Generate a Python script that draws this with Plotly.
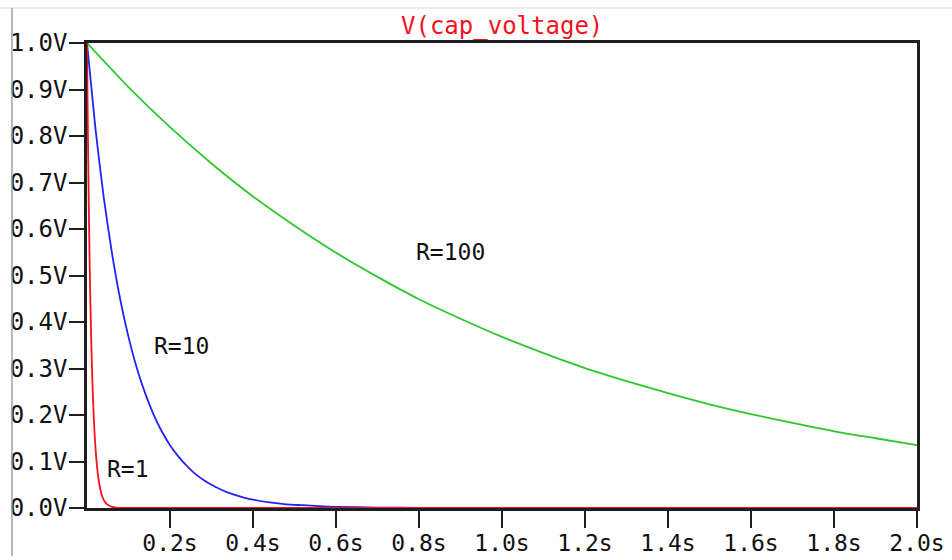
import plotly.graph_objects as go

# Time samples (s) and capacitor voltage (V)
t_r1 = [0, 0.002, 0.004, 0.006, 0.008, 0.010, 0.012, 0.014, 0.016, 0.018, 0.020,
        0.022, 0.024, 0.026, 0.028, 0.030, 0.034, 0.038, 0.042, 0.046, 0.050,
        0.060, 0.070, 0.080, 0.100, 2.0]
v_r1 = [1.000, 0.819, 0.670, 0.549, 0.449, 0.368, 0.301, 0.247, 0.202, 0.165, 0.135,
        0.111, 0.091, 0.074, 0.061, 0.050, 0.033, 0.022, 0.015, 0.010, 0.007,
        0.0025, 0.0009, 0.0003, 0.0, 0.0]

t_r10 = [0, 0.02, 0.04, 0.06, 0.08, 0.10, 0.12, 0.14, 0.16, 0.18, 0.20, 0.22, 0.24,
         0.26, 0.28, 0.30, 0.32, 0.34, 0.36, 0.38, 0.40, 0.44, 0.48, 0.52, 0.56,
         0.60, 0.70, 0.80, 1.0, 2.0]
v_r10 = [1.000, 0.819, 0.670, 0.549, 0.449, 0.368, 0.301, 0.247, 0.202, 0.165, 0.135,
         0.111, 0.091, 0.074, 0.061, 0.050, 0.041, 0.033, 0.027, 0.022, 0.018,
         0.012, 0.008, 0.006, 0.004, 0.0025, 0.001, 0.0003, 0.0, 0.0]

t_r100 = [0, 0.1, 0.2, 0.3, 0.4, 0.5, 0.6, 0.7, 0.8, 0.9, 1.0, 1.1, 1.2, 1.3, 1.4,
          1.5, 1.6, 1.7, 1.8, 1.9, 2.0]
v_r100 = [1.000, 0.905, 0.819, 0.741, 0.670, 0.607, 0.549, 0.497, 0.449, 0.407,
          0.368, 0.333, 0.301, 0.273, 0.247, 0.223, 0.202, 0.183, 0.165, 0.150, 0.135]

x_ticks = [0.2, 0.4, 0.6, 0.8, 1.0, 1.2, 1.4, 1.6, 1.8, 2.0]
y_ticks = [0.0, 0.1, 0.2, 0.3, 0.4, 0.5, 0.6, 0.7, 0.8, 0.9, 1.0]
series_names = ["R=1", "R=10", "R=100"]
title_text = "V(cap_voltage)"

FONT = "DejaVu Sans Mono"
AX = "#1e1e1e"

fig = go.Figure()
for t, v, name, col in [(t_r100, v_r100, series_names[2], "#2ec72e"),
                        (t_r10, v_r10, series_names[1], "#2323f5"),
                        (t_r1, v_r1, series_names[0], "#f5121e")]:
    fig.add_trace(go.Scatter(x=t, y=v, mode="lines", name=name,
                             line=dict(color=col, width=1.8, shape="spline", smoothing=0.6),
                             showlegend=False, hoverinfo="x+y"))

axis_common = dict(showline=True, linecolor=AX, linewidth=2.5, mirror=True, automargin=False,
                   showgrid=False, zeroline=False, ticks="outside", tickcolor=AX,
                   tickwidth=2)

fig.update_xaxes(range=[0, 2.0], tickvals=x_ticks, ticktext=[f"{v:.1f}s" for v in x_ticks],
                 ticklen=17, ticklabelstandoff=-4,
                 tickfont=dict(family=FONT, size=23, color="#111"), **axis_common)
fig.update_yaxes(range=[0, 1.0], tickvals=y_ticks, ticktext=[f"{v:.1f}V" for v in y_ticks],
                 ticklen=15, ticklabelstandoff=-3,
                 tickfont=dict(family=FONT, size=24, color="#111"), **axis_common)

label_pos = {"R=100": (0.877, 0.551), "R=10": (0.2265, 0.348), "R=1": (0.099, 0.084)}
for name in series_names:
    x, y = label_pos[name]
    fig.add_annotation(x=x, y=y, xref="x", yref="y", text=name, showarrow=False,
                       font=dict(family=FONT, size=23, color="#111"))

fig.add_annotation(x=0.5, y=1.037, xref="paper", yref="paper", text=title_text,
                   showarrow=False, yanchor="middle",
                   font=dict(family=FONT, size=24, color="#f5121e"))

# screenshot frame lines
fig.add_shape(type="line", xref="paper", yref="paper", x0=-0.2, x1=1.2, y0=1.0753, y1=1.0753,
              line=dict(color="#e6e6e6", width=1.5))
fig.add_shape(type="line", xref="paper", yref="paper", x0=-0.0904, x1=-0.0904, y0=1.0753, y1=-0.103,
              line=dict(color="#a0a0a0", width=1.5))

fig.update_layout(width=952, height=560, margin=dict(l=87, r=35, t=43, b=52),
                  paper_bgcolor="white", plot_bgcolor="white")

fig.write_html("out.html")
